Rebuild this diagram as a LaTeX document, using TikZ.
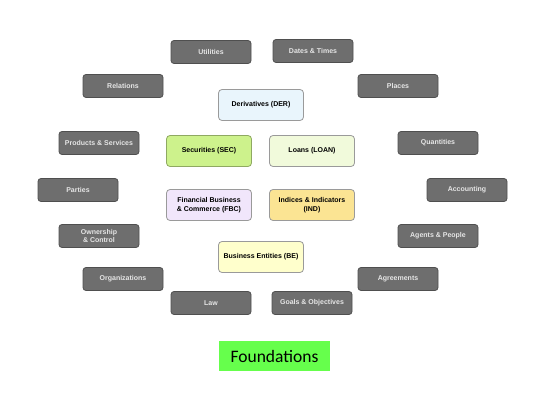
\documentclass[tikz,border=0pt]{standalone}
\usepackage{fontspec}
\setmainfont{Liberation Sans}
\newfontfamily\carlito{Carlito}
\definecolor{gfill}{HTML}{6E6E6E}
\definecolor{gdraw}{HTML}{4F4F4F}
\definecolor{gtext}{HTML}{E6E6E6}
\definecolor{derfill}{HTML}{E9F5FC}
\definecolor{secfill}{HTML}{CDF28C}
\definecolor{loanfill}{HTML}{F1FADB}
\definecolor{fbcfill}{HTML}{F1E6FB}
\definecolor{indfill}{HTML}{FBE493}
\definecolor{befill}{HTML}{FFFFCC}
\definecolor{cdraw}{HTML}{9A9A9A}
\definecolor{fgreen}{HTML}{66FF4C}
\begin{document}
\begin{tikzpicture}[x=1pt,y=-1pt,
  graybox/.style={draw=gdraw,line width=0.8pt,fill=gfill,rounded corners=3pt,
    minimum width=80pt,minimum height=23pt,inner sep=1pt,align=center,
    text=gtext,font=\fontsize{7}{8}\selectfont\bfseries},
  colbox/.style={draw=cdraw,line width=0.8pt,rounded corners=3.5pt,
    minimum width=85pt,minimum height=31pt,inner sep=1pt,align=center,
    text=black,font=\fontsize{7}{8.5}\selectfont\bfseries}]
\useasboundingbox (0,0) rectangle (554,414);
% gray boxes
\node[graybox] (util) at (211,52) {Utilities};
\node[graybox] (dates) at (313,51) {Dates \& Times};
\node[graybox] (rel) at (123,86) {Relations};
\node[graybox] (places) at (398,86) {Places};
\node[graybox] (prod) at (99,143) {Products \& Services};
\node[graybox] (quant) at (438,143) {Quantities};
\node[graybox] (parties) at (78,190) {Parties};
\node[graybox] (acct) at (467,190) {Accounting};
\node[graybox] (own) at (99,236) {Ownership\\\& Control};
\node[graybox] (agents) at (438,236) {Agents \& People};
\node[graybox] (org) at (123,279) {Organizations};
\node[graybox] (agree) at (398,279) {Agreements};
\node[graybox] (law) at (211,303) {Law};
\node[graybox] (goals) at (312,303) {Goals \& Objectives};
% coloured boxes
\node[colbox,fill=derfill] (der) at (261,105) {Derivatives (DER)};
\node[colbox,fill=secfill,draw=secfill!70!black] (sec) at (209,151) {Securities (SEC)};
\node[colbox,fill=loanfill] (loan) at (312,151) {Loans (LOAN)};
\node[colbox,fill=fbcfill] (fbc) at (209,205) {Financial Business\\\& Commerce (FBC)};
\node[colbox,fill=indfill] (ind) at (312,205) {Indices \& Indicators\\(IND)};
\node[colbox,fill=befill] (be) at (261,257) {Business Entities (BE)};
% title
\node[fill=fgreen,minimum width=111pt,minimum height=30pt,inner sep=0pt,
  font=\carlito\fontsize{17.5}{20}\selectfont] (found) at (274.5,356) {Foundations};
\end{tikzpicture}
\end{document}
